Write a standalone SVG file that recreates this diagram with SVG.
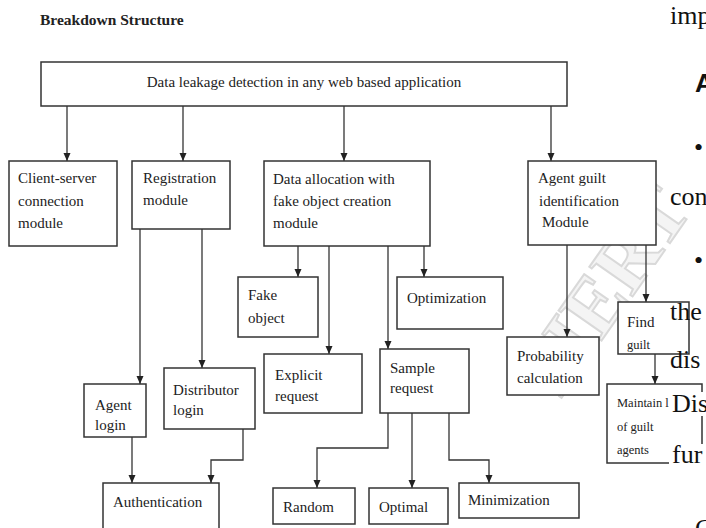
<svg xmlns="http://www.w3.org/2000/svg" width="706" height="528" viewBox="0 0 706 528">
<style>
.box{fill:#fff;stroke:#333;stroke-width:1.5}
.t{font-family:"Liberation Serif","Times New Roman",serif;font-size:15px;fill:#222}
.s{font-family:"Liberation Serif","Times New Roman",serif;font-size:12.5px;fill:#222}
.pg{font-family:"Liberation Serif","Times New Roman",serif;font-size:26px;fill:#111}
.c{fill:none;stroke:#333;stroke-width:1.3}
.wm{font-family:"Liberation Serif",serif;font-weight:bold;font-size:80px;fill:#f4f4f4;stroke:#d9d9d9;stroke-width:2}
</style>
<defs>
<marker id="ah" markerUnits="userSpaceOnUse" markerWidth="8" markerHeight="8" refX="8" refY="4" orient="auto">
<path d="M0,0.5 L8,4 L0,7.5 z" fill="#222"/>
</marker>
</defs>
<rect width="706" height="528" fill="#fff"/>
<text class="wm" x="560" y="400" transform="rotate(-55 560 400)">IJERT</text>
<text x="40" y="25" style="font-family:'Liberation Serif',serif;font-weight:bold;font-size:15.5px;fill:#222">Breakdown Structure</text>

<g id="connectors">
<path class="c" marker-end="url(#ah)" d="M67,106 V161"/>
<path class="c" marker-end="url(#ah)" d="M183,106 V161"/>
<path class="c" marker-end="url(#ah)" d="M344,106 V161"/>
<path class="c" marker-end="url(#ah)" d="M551,106 V161"/>
<path class="c" marker-end="url(#ah)" d="M140,229 V384"/>
<path class="c" marker-end="url(#ah)" d="M202,229 V368"/>
<path class="c" marker-end="url(#ah)" d="M298,246 V277"/>
<path class="c" marker-end="url(#ah)" d="M329,246 V354"/>
<path class="c" marker-end="url(#ah)" d="M388,246 V349"/>
<path class="c" marker-end="url(#ah)" d="M424,246 V277"/>
<path class="c" marker-end="url(#ah)" d="M567,245 V337"/>
<path class="c" marker-end="url(#ah)" d="M646,245 V302"/>
<path class="c" marker-end="url(#ah)" d="M655,354 V384"/>
<path class="c" marker-end="url(#ah)" d="M132,437 V483"/>
<path class="c" marker-end="url(#ah)" d="M243,429 V460 H211 V483"/>
<path class="c" marker-end="url(#ah)" d="M388,413 V448 H317 V488"/>
<path class="c" marker-end="url(#ah)" d="M412,413 V488"/>
<path class="c" marker-end="url(#ah)" d="M449,413 V460 H489 V483"/>
</g>

<g id="root"><rect class="box" x="41" y="62" width="526" height="44"/><text class="t" x="304" y="87" text-anchor="middle">Data leakage detection in any web based application</text></g>
<g id="client"><rect class="box" x="9" y="161" width="108" height="85"/><text class="t" x="18" y="183">Client-server</text><text class="t" x="18" y="206">connection</text><text class="t" x="18" y="228">module</text></g>
<g id="registration"><rect class="box" x="132" y="161" width="98" height="68"/><text class="t" x="143" y="183">Registration</text><text class="t" x="143" y="205">module</text></g>
<g id="allocation"><rect class="box" x="264" y="161" width="166" height="85"/><text class="t" x="273" y="184">Data allocation with</text><text class="t" x="273" y="206">fake object creation</text><text class="t" x="273" y="228">module</text></g>
<g id="agentguilt"><rect class="box" x="528" y="161" width="128" height="84"/><text class="t" x="538" y="183">Agent guilt</text><text class="t" x="539" y="206">identification</text><text class="t" x="542" y="227">Module</text></g>
<g id="fake"><rect class="box" x="238" y="277" width="80" height="60"/><text class="t" x="248" y="300">Fake</text><text class="t" x="248" y="323">object</text></g>
<g id="optimization"><rect class="box" x="397" y="277" width="106" height="52"/><text class="t" x="407" y="303">Optimization</text></g>
<g id="explicit"><rect class="box" x="264" y="354" width="98" height="59"/><text class="t" x="275" y="380">Explicit</text><text class="t" x="275" y="401">request</text></g>
<g id="sample"><rect class="box" x="380" y="349" width="89" height="64"/><text class="t" x="390" y="373">Sample</text><text class="t" x="390" y="393">request</text></g>
<g id="probability"><rect class="box" x="507" y="337" width="92" height="58"/><text class="t" x="517" y="361">Probability</text><text class="t" x="517" y="383">calculation</text></g>
<g id="findguilt"><rect class="box" x="618" y="302" width="71" height="52"/><text class="t" x="627" y="327">Find</text><text class="s" x="627" y="349">guilt</text></g>
<g id="maintain"><rect class="box" x="607" y="384" width="95" height="79"/><text class="s" x="617" y="407">Maintain list</text><text class="s" x="617" y="431">of guilt</text><text class="s" x="617" y="454">agents</text></g>
<g id="agentlogin"><rect class="box" x="84" y="384" width="62" height="53"/><text class="t" x="95" y="410">Agent</text><text class="t" x="95" y="430">login</text></g>
<g id="distlogin"><rect class="box" x="164" y="368" width="91" height="61"/><text class="t" x="173" y="395">Distributor</text><text class="t" x="173" y="415">login</text></g>
<g id="authentication"><rect class="box" x="103" y="483" width="116" height="50"/><text class="t" x="113" y="507">Authentication</text></g>
<g id="random"><rect class="box" x="273" y="488" width="82" height="36"/><text class="t" x="283" y="512">Random</text></g>
<g id="optimal"><rect class="box" x="369" y="488" width="79" height="36"/><text class="t" x="379" y="512">Optimal</text></g>
<g id="minimization"><rect class="box" x="459" y="483" width="120" height="35"/><text class="t" x="468" y="505">Minimization</text></g>

<g id="pagetext">
<text class="pg" x="670" y="24">imp</text>
<text x="695" y="92" style="font-family:'Liberation Sans',Arial,sans-serif;font-weight:bold;font-size:26px;fill:#111">A</text>
<text class="pg" x="694" y="156">•</text>
<text class="pg" x="670" y="205">con</text>
<text class="pg" x="694" y="269">•</text>
<text class="pg" x="670" y="320">the</text>
<text class="pg" x="670" y="368">dis</text>
<rect x="669" y="392" width="37" height="24" fill="#fff"/>
<text class="pg" x="672" y="412">Dis</text>
<rect x="669" y="444" width="37" height="24" fill="#fff"/>
<text class="pg" x="672" y="463">fur</text>
<text class="pg" x="695" y="537">C</text>
</g>
</svg>
